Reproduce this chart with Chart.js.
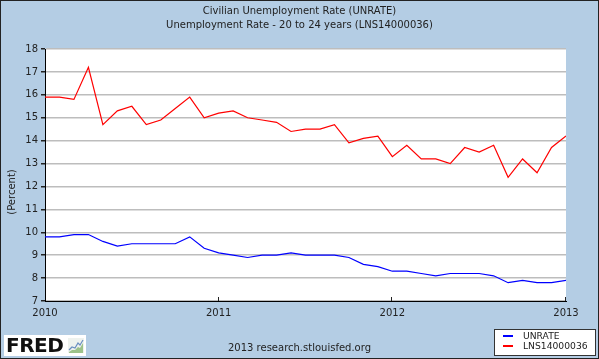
<!DOCTYPE html>
<html>
<head>
<meta charset="utf-8">
<script src="https://cdn.jsdelivr.net/npm/chart.js@4"></script>
<style>
  html, body { margin: 0; padding: 0; }
  #wrap { position: relative; width: 599px; height: 359px; background: #b4cde4; font-family: "DejaVu Sans", sans-serif; overflow: hidden; }
  #c { position: absolute; left: 0; top: 0; }
  .t { position: absolute; left: 0; width: 599px; text-align: center; font-size: 10px; color: #222; white-space: nowrap; }
  #frame { position: absolute; left: 0; top: 0; width: 599px; height: 359px; box-sizing: border-box; border: 1px solid #222; pointer-events: none; }
  #ytitle { position: absolute; left: -18px; top: 186px; width: 60px; height: 12px; line-height: 12px; text-align: center; transform: rotate(-90deg); font-size: 10px; color: #222; white-space: nowrap; }
  #fred { position: absolute; left: 4px; top: 335px; width: 82px; height: 21px; background: #fff; }
  #fred span { position: absolute; left: 2px; top: -2px; font: bold 20px "DejaVu Sans", sans-serif; color: #111; letter-spacing: -0.5px; }
  #fred svg { position: absolute; left: 64px; top: 3px; }
  #src { position: absolute; left: 0; width: 599px; top: 342px; text-align: center; font-size: 10px; color: #222; }
  #leg { position: absolute; left: 494px; top: 329px; width: 102px; height: 27px; box-sizing: border-box; background: #fff; border: 1px solid #333; font-size: 9.2px; color: #222; }
  #leg div { position: absolute; left: 28px; white-space: nowrap; }
  #leg i { position: absolute; left: 8px; width: 10px; height: 2px; }
</style>
</head>
<body>
<div id="wrap">
  <canvas id="c" width="599" height="359"></canvas>
  <div class="t" style="top:5px">Civilian Unemployment Rate (UNRATE)</div>
  <div class="t" style="top:19px">Unemployment Rate - 20 to 24 years (LNS14000036)</div>
  <div id="ytitle">(Percent)</div>
  <div id="fred"><span>FRED</span>
    <svg width="16" height="15" viewBox="0 0 16 15">
      <rect x="0" y="0" width="16" height="15" fill="#eef2ee"/>
      <polyline points="1,12 4,9 7,10 10,5 12,7 15,2" fill="none" stroke="#6a8fc0" stroke-width="1.2"/>
      <polyline points="1,14 4,12 7,12 10,9 12,10 15,5 15,15 1,15" fill="#9cc28a"/>
    </svg>
  </div>
  <div id="src">2013 research.stlouisfed.org</div>
  <div id="leg">
    <i style="top:5px;background:#0000ff"></i><div style="top:0px">UNRATE</div>
    <i style="top:15px;background:#ff0000"></i><div style="top:10px">LNS14000036</div>
  </div>
  <div id="frame"></div>
</div>
<script>
const yearLabels = ['2010', '2011', '2012', '2013'];
// monthly, Jan 2010 .. Jan 2013
const unrate = [9.8,9.8,9.9,9.9,9.6,9.4,9.5,9.5,9.5,9.5,9.8,9.3,
                9.1,9.0,8.9,9.0,9.0,9.1,9.0,9.0,9.0,8.9,8.6,8.5,
                8.3,8.3,8.2,8.1,8.2,8.2,8.2,8.1,7.8,7.9,7.8,7.8,
                7.9];
const lns14000036 = [15.9,15.9,15.8,17.2,14.7,15.3,15.5,14.7,14.9,15.4,15.9,15.0,
                     15.2,15.3,15.0,14.9,14.8,14.4,14.5,14.5,14.7,13.9,14.1,14.2,
                     13.3,13.8,13.2,13.2,13.0,13.7,13.5,13.8,12.4,13.2,12.6,13.7,
                     14.2];
const yTicks = [7,8,9,10,11,12,13,14,15,16,17,18];

const toPts = arr => arr.map((v, i) => ({x: i, y: v}));

const plotBg = {
  id: 'plotBg',
  beforeDraw(chart) {
    const {ctx, chartArea: a} = chart;
    ctx.save();
    ctx.fillStyle = '#ffffff';
    ctx.fillRect(a.left, a.top, a.right - a.left, a.bottom - a.top);
    ctx.restore();
  },
  afterDraw(chart) {
    const {ctx, chartArea: a} = chart;
    const xs = chart.scales.x;
    ctx.save();
    ctx.strokeStyle = '#222';
    ctx.lineWidth = 1;
    for (let i = 1; i < yearLabels.length; i++) {
      const px = Math.round(xs.getPixelForValue(i * 12)) - 0.5;
      ctx.beginPath();
      ctx.moveTo(px, a.bottom);
      ctx.lineTo(px, a.bottom - 4);
      ctx.stroke();
    }
    ctx.restore();
  }
};

Chart.defaults.font.family = '"DejaVu Sans", sans-serif';
Chart.defaults.font.size = 10;
Chart.defaults.color = '#222';

new Chart(document.getElementById('c'), {
  type: 'line',
  data: {
    datasets: [
      { label: 'UNRATE', data: toPts(unrate), borderColor: '#0000ff', borderWidth: 1.2, pointRadius: 0, tension: 0, fill: false },
      { label: 'LNS14000036', data: toPts(lns14000036), borderColor: '#ff0000', borderWidth: 1.2, pointRadius: 0, tension: 0, fill: false }
    ]
  },
  options: {
    responsive: false,
    animation: false,
    events: [],
    layout: { padding: { left: 0, right: 33, top: 49, bottom: 38 } },
    plugins: { legend: { display: false }, title: { display: false }, tooltip: { enabled: false } },
    scales: {
      x: {
        type: 'linear', min: 0, max: 36,
        afterFit(s) { s.height = 20; },
        afterBuildTicks(s) { s.ticks = yearLabels.map((_, i) => ({ value: i * 12 })); },
        ticks: { callback: v => yearLabels[v / 12], padding: 6, maxRotation: 0, color: '#222' },
        grid: { display: true, drawOnChartArea: false, drawTicks: false },
        border: { display: true, color: '#000', width: 1 }
      },
      y: {
        min: 7, max: 18,
        afterFit(s) { s.width = 45; },
        afterBuildTicks(s) { s.ticks = yTicks.map(v => ({ value: v })); },
        ticks: { padding: 3, color: '#222' },
        grid: { color: '#bdbdbd', lineWidth: 1.5, tickColor: '#222', tickLength: 4 },
        border: { display: true, color: '#000', width: 1 }
      }
    }
  },
  plugins: [plotBg]
});
</script>
</body>
</html>
